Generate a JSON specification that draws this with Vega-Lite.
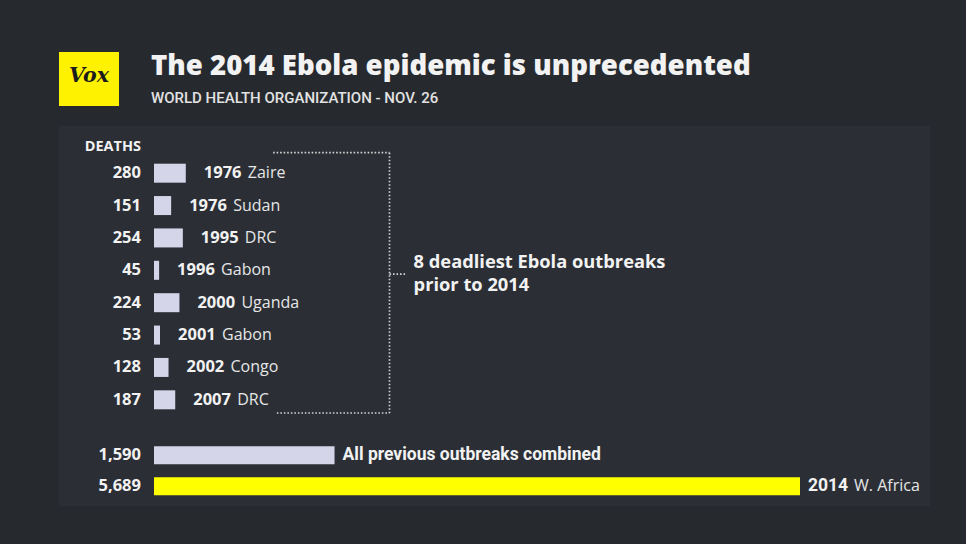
{
  "$schema": "https://vega.github.io/schema/vega-lite/v6.json",
  "background": "#262a2f",
  "padding": {"left": 59, "top": 51, "right": 36, "bottom": 39},
  "spacing": 0,
  "config": {"view": {"stroke": null}, "font": "Open Sans"},
  "datasets": {
    "prior": [
      {"outbreak": "1976 Zaire", "name_bold": "1976", "name_rest": "Zaire", "deaths": 280},
      {"outbreak": "1976 Sudan", "name_bold": "1976", "name_rest": "Sudan", "deaths": 151},
      {"outbreak": "1995 DRC", "name_bold": "1995", "name_rest": "DRC", "deaths": 254},
      {"outbreak": "1996 Gabon", "name_bold": "1996", "name_rest": "Gabon", "deaths": 45},
      {"outbreak": "2000 Uganda", "name_bold": "2000", "name_rest": "Uganda", "deaths": 224},
      {"outbreak": "2001 Gabon", "name_bold": "2001", "name_rest": "Gabon", "deaths": 53},
      {"outbreak": "2002 Congo", "name_bold": "2002", "name_rest": "Congo", "deaths": 128},
      {"outbreak": "2007 DRC", "name_bold": "2007", "name_rest": "DRC", "deaths": 187}
    ],
    "total": [
      {"outbreak": "All previous outbreaks combined", "name_bold": "All previous outbreaks combined", "name_rest": "", "deaths": 1590},
      {"outbreak": "2014 W. Africa", "name_bold": "2014", "name_rest": "W. Africa", "deaths": 5689}
    ]
  },
  "vconcat": [
    {
      "hconcat": [
        {
          "width": 60, "height": 54,
          "view": {"fill": "#fff200", "stroke": null},
          "data": {"name": "total"},
          "transform": [{"filter": "datum.deaths === 5689"}],
          "mark": {"type": "text", "font": "DejaVu Serif", "fontStyle": "italic", "fontWeight": "bold", "fontSize": 20.5, "color": "#1b1b1b", "baseline": "middle", "align": "center", "dy": -3, "text": "Vox"},
          "encoding": {}
        },
        {
          "width": 780, "height": 74,
          "title": {
            "text": "The 2014 Ebola epidemic is unprecedented",
            "subtitle": "WORLD HEALTH ORGANIZATION - NOV. 26",
            "anchor": "start", "frame": "group", "offset": -54.5,
            "font": "Open Sans", "fontSize": 27.6, "fontWeight": 800, "color": "#f2f2f2",
            "subtitleFont": "Roboto", "subtitleFontSize": 15, "subtitleFontWeight": 500,
            "subtitleColor": "#e2e2e2", "subtitlePadding": 10
          },
          "data": {"name": "total"},
          "transform": [{"filter": "datum.deaths === 5689"}],
          "mark": {"type": "rule", "opacity": 0},
          "encoding": {}
        }
      ],
      "spacing": 31
    },
    {
      "width": 871, "height": 303,
      "view": {"fill": "#2b2f35", "stroke": null},
      "data": {"name": "prior"},
      "encoding": {
        "y": {"field": "outbreak", "type": "nominal", "axis": null,
              "scale": {"domain": ["1976 Zaire", "1976 Sudan", "1995 DRC", "1996 Gabon", "2000 Uganda", "2001 Gabon", "2002 Congo", "2007 DRC"], "range": [31, 290], "paddingInner": 0, "paddingOuter": 0}},
        "x": {"field": "deaths", "type": "quantitative", "axis": null,
              "scale": {"domain": [0, 5689], "range": [95, 741], "nice": false}}
      },
      "layer": [
        {"mark": {"type": "bar", "height": 19, "color": "#d4d5e9"}},
        {"mark": {"type": "text", "align": "right", "baseline": "middle", "dx": -13, "fontSize": 16.5, "fontWeight": "bold", "color": "#f2f2f2"},
         "encoding": {"x": {"datum": 0}, "text": {"field": "deaths", "format": ","}}},
        {"mark": {"type": "text", "align": "left", "baseline": "middle", "dx": 18, "fontSize": 16.5, "fontWeight": "bold", "color": "#f2f2f2"},
         "encoding": {"text": {"field": "name_bold"}}},
        {"mark": {"type": "text", "align": "left", "baseline": "middle", "dx": 62, "fontSize": 16, "fontWeight": "normal", "color": "#e6e6e6"},
         "encoding": {"text": {"field": "name_rest"}}},
        {"transform": [{"filter": "datum.outbreak === '1976 Zaire'"}],
         "mark": {"type": "text", "align": "right", "baseline": "middle", "dx": -13, "dy": -26.5, "fontSize": 14.5, "fontWeight": "bold", "color": "#f2f2f2", "text": "DEATHS"},
         "encoding": {"x": {"datum": 0}, "y": {"datum": "1976 Zaire"}}},
        {"transform": [{"filter": "datum.outbreak === '1976 Zaire'"}],
         "mark": {"type": "rule", "strokeDash": [1.6, 1.9], "strokeWidth": 1.7, "color": "#d2d2d2", "yOffset": -20.5},
         "encoding": {"x": {"datum": 1049}, "x2": {"datum": 2074}, "y": {"datum": "1976 Zaire"}}},
        {"transform": [{"filter": "datum.outbreak === '1976 Zaire'"}],
         "mark": {"type": "rule", "strokeDash": [1.6, 1.9], "strokeWidth": 1.7, "color": "#d2d2d2", "yOffset": -20.5, "y2Offset": 13.2},
         "encoding": {"x": {"datum": 2074}, "y": {"datum": "1976 Zaire"}, "y2": {"datum": "2007 DRC"}}},
        {"transform": [{"filter": "datum.outbreak === '1976 Zaire'"}],
         "mark": {"type": "rule", "strokeDash": [1.6, 1.9], "strokeWidth": 1.7, "color": "#d2d2d2", "yOffset": 13.2},
         "encoding": {"x": {"datum": 1082}, "x2": {"datum": 2074}, "y": {"datum": "2007 DRC"}}},
        {"transform": [{"filter": "datum.outbreak === '1976 Zaire'"}],
         "mark": {"type": "rule", "strokeDash": [1.6, 1.9], "strokeWidth": 1.7, "color": "#d2d2d2", "yOffset": 3.8},
         "encoding": {"x": {"datum": 2074}, "x2": {"datum": 2213}, "y": {"datum": "1996 Gabon"}}},
        {"transform": [{"filter": "datum.outbreak === '1976 Zaire'"}],
         "mark": {"type": "text", "align": "left", "baseline": "alphabetic", "dy": -2, "fontSize": 18.3, "fontWeight": "bold", "color": "#f2f2f2", "lineHeight": 22.5,
                  "text": ["8 deadliest Ebola outbreaks", "prior to 2014"]},
         "encoding": {"x": {"datum": 2286}, "y": {"datum": "1996 Gabon"}}}
      ]
    },
    {
      "width": 871, "height": 77,
      "view": {"fill": "#2b2f35", "stroke": null},
      "data": {"name": "total"},
      "encoding": {
        "y": {"field": "outbreak", "type": "nominal", "axis": null, "sort": null,
              "scale": {"range": [10.6, 72.8], "paddingInner": 0, "paddingOuter": 0}},
        "x": {"field": "deaths", "type": "quantitative", "axis": null,
              "scale": {"domain": [0, 5689], "range": [95, 741], "nice": false}}
      },
      "layer": [
        {"mark": {"type": "bar", "height": 18},
         "encoding": {"color": {"condition": {"test": "datum.outbreak === '2014 W. Africa'", "value": "#ffff00"}, "value": "#d4d5e9"}}},
        {"mark": {"type": "text", "align": "right", "baseline": "middle", "dx": -13, "fontSize": 16.5, "fontWeight": "bold", "color": "#f2f2f2"},
         "encoding": {"x": {"datum": 0}, "text": {"field": "deaths", "format": ","}}},
        {"mark": {"type": "text", "align": "left", "baseline": "middle", "dx": 8, "font": "Roboto", "fontSize": 17.5, "fontWeight": "bold", "color": "#f2f2f2"},
         "encoding": {"text": {"field": "name_bold"}}},
        {"mark": {"type": "text", "align": "left", "baseline": "middle", "dx": 54, "fontSize": 16, "fontWeight": "normal", "color": "#e6e6e6"},
         "encoding": {"text": {"field": "name_rest"}}}
      ]
    }
  ]
}
